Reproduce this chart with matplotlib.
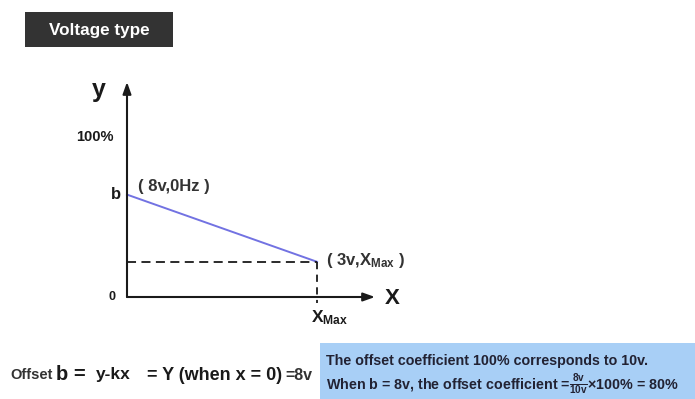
import matplotlib
matplotlib.use("Agg")
import matplotlib.pyplot as plt
from matplotlib.patches import Rectangle

plt.rcParams['font.family'] = ['Liberation Sans', 'DejaVu Sans']
plt.rcParams['font.weight'] = 'bold'
plt.rcParams['mathtext.fontset'] = 'custom'
plt.rcParams['mathtext.rm'] = 'Liberation Sans:bold'
plt.rcParams['mathtext.it'] = 'Liberation Sans:bold'
plt.rcParams['mathtext.bf'] = 'Liberation Sans:bold'

# ---- data (x in units of Xmax, y in % of full scale as drawn) ----
line_x = [0.0, 1.0]          # 0Hz -> Xmax
line_y = [64.0, 22.0]        # b (8v) -> 3v level
point_labels = ["( 8v,0Hz )", "( 3v,X$_{\\mathrm{Max}}$ )"]
y_ticks = [0, 64, 100]
y_tick_labels = ["0", "b", "100%"]
x_tick_labels = ["X$_{\\mathrm{Max}}$"]

W, H = 695, 399
fig = plt.figure(figsize=(W / 100, H / 100), dpi=100)
fig.patch.set_facecolor("white")

def fx(px):
    return px / W

def fy(py):
    return 1 - py / H

TXT = "#1a1a1a"

# title box
fig.patches.append(Rectangle((fx(25), fy(47)), fx(173) - fx(25), fy(12) - fy(47),
                             transform=fig.transFigure, facecolor="#333333",
                             edgecolor="none"))
fig.text(fx(99), fy(30), "Voltage type", color="white", fontsize=12.3,
         fontweight="bold", ha="center", va="center")

# chart axes: origin at (127,297), Xmax at 317, 100% at 137
x0, y0 = 127, 297
sx = 317 - 127
sy = (297 - 137) / 100.0
x_end = (375 - x0) / sx
y_end = (y0 - 82) / sy
ax = fig.add_axes([fx(x0), fy(y0), fx(375) - fx(x0), fy(82) - fy(y0)])
ax.set_xlim(0, x_end)
ax.set_ylim(0, y_end)
ax.axis("off")

# axes arrows
arrow = dict(arrowstyle="-|>,head_length=0.7,head_width=0.25", color=TXT, lw=1.5,
             shrinkA=0, shrinkB=0)
ax.annotate("", xy=(x_end, 0), xytext=(0, 0), arrowprops=arrow, annotation_clip=False)
ax.annotate("", xy=(0, y_end), xytext=(0, 0), arrowprops=arrow, annotation_clip=False)

# main line
ax.plot(line_x, line_y, color="#7272e2", lw=1.4, clip_on=False)
# dashed guides
ax.plot([0, line_x[1]], [line_y[1], line_y[1]], color=TXT, lw=1.3,
        ls=(0, (5, 3)), clip_on=False)
ax.plot([line_x[1], line_x[1]], [line_y[1], -4], color=TXT, lw=1.3,
        ls=(0, (4, 3)), clip_on=False)

# labels
ax.text(-0.15, y_end - 5, "y", fontsize=18, fontweight="bold", ha="center",
        va="center", color=TXT, clip_on=False)
ax.text(x_end + 0.09, -1, "X", fontsize=16, fontweight="bold", ha="center",
        va="center", color=TXT, clip_on=False)
ax.text(-0.17, y_ticks[2], y_tick_labels[2], fontsize=10.5, ha="center", va="center",
        color=TXT, clip_on=False)
ax.text(-0.06, y_ticks[1], y_tick_labels[1], fontsize=12, ha="center", va="center",
        color=TXT, clip_on=False)
ax.text(-0.08, y_ticks[0], y_tick_labels[0], fontsize=9, ha="center", va="center",
        color=TXT, clip_on=False)
ax.text(line_x[1] - 0.03, -13, x_tick_labels[0], fontsize=12.5, ha="left", va="center",
        color=TXT, clip_on=False)
ax.text(line_x[0] + 0.06, line_y[0] + 5, point_labels[0], fontsize=12, ha="left",
        va="center", color="#333333", clip_on=False)
ax.text(line_x[1] + 0.05, line_y[1] + 0.5, point_labels[1], fontsize=12, ha="left",
        va="center", color="#333333", clip_on=False)

# bottom formula
yb = fy(375)
fig.text(fx(10), yb, "Offset", fontsize=10.5, va="center", color="#333333")
fig.text(fx(56), yb, "b =", fontsize=14.5, va="center", color=TXT)
fig.text(fx(96), yb, "y-kx", fontsize=12.5, va="center", color=TXT)
fig.text(fx(147), yb, "= Y (when x = 0)", fontsize=13, va="center", color=TXT)
fig.text(fx(285), yb, "=8v", fontsize=11.5, va="center", color="#333333")

# blue note box
fig.patches.append(Rectangle((fx(320), fy(399)), fx(695) - fx(320), fy(343) - fy(399),
                             transform=fig.transFigure, facecolor="#a8cff6",
                             edgecolor="none"))
fig.text(fx(326), fy(361), "The offset coefficient 100% corresponds to 10v.",
         fontsize=10.3, va="center", color="#222233")
fig.text(fx(326), fy(385),
         r"When b = 8v, the offset coefficient =$\frac{8v}{10v}$×100% = 80%",
         fontsize=10.3, va="center", color="#222233")

fig.savefig("out.png", dpi=100, facecolor="white")
